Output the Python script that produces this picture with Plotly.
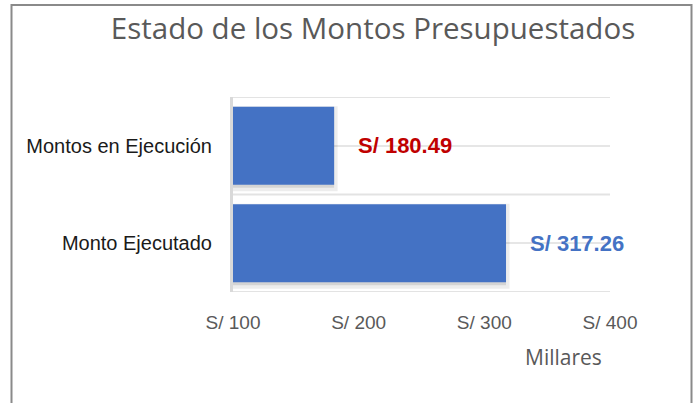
import plotly.graph_objects as go

# ---- data ----
categories = ["Monto Ejecutado", "Montos en Ejecución"]
values = [317.26, 180.49]          # miles de soles
label_colors = ["#4472C4", "#C00000"]
tick_vals = [100, 200, 300, 400]
tick_text = ["S/ 100", "S/ 200", "S/ 300", "S/ 400"]

W, H = 699, 403
ML, MR, MT, MB = 233, 89, 97, 111
PW, PH = W - ML - MR, H - MT - MB

def px_x(px):
    return (px - ML) / PW

def px_y(py):
    return (H - MB - py) / PH

BAR = "#4472C4"
base = tick_vals[0]

fig = go.Figure()
# soft shadow
fig.add_trace(go.Bar(
    y=categories, x=[v - base for v in values], base=base, orientation="h",
    width=0.8, offset=-0.43,
    marker=dict(color="rgba(0,0,0,0.10)", line=dict(color="rgba(0,0,0,0.07)", width=7)),
    hoverinfo="skip", showlegend=False,
))
fig.add_trace(go.Bar(
    y=categories, x=[v - base for v in values], base=base, orientation="h",
    width=0.8, offset=-0.4,
    marker=dict(color=BAR, line=dict(width=0)),
    showlegend=False,
))

font_main = "Liberation Sans, Arial, sans-serif"
for cat, v, col in zip(categories, values, label_colors):
    fig.add_annotation(
        x=v, y=cat, xref="x", yref="y", text=f"<b>S/ {v:.2f}</b>",
        showarrow=False, xanchor="left", yanchor="middle", xshift=22,
        font=dict(family=font_main, size=22, color=col),
    )

# category boundary gridlines
for b in [-0.5, 0.5, 1.5]:
    fig.add_shape(type="line", xref="paper", yref="y", x0=0, x1=1, y0=b, y1=b,
                  line=dict(color="#E3E3E3", width=2), layer="below")

# outer border (frame)
fig.add_shape(type="rect", xref="paper", yref="paper",
              x0=px_x(11.5), x1=px_x(691.5), y0=px_y(420), y1=px_y(5),
              line=dict(color="#8A8A8A", width=2), layer="below")

fig.add_annotation(
    x=px_x(563), y=px_y(357), xref="paper", yref="paper", text="Millares",
    showarrow=False, xanchor="center", yanchor="middle",
    font=dict(family="Open Sans, sans-serif", size=21, color="#595959"),
)

fig.update_layout(
    width=W, height=H,
    margin=dict(l=ML, r=MR, t=MT, b=MB, pad=0, autoexpand=False),
    paper_bgcolor="white", plot_bgcolor="white",
    barmode="overlay",
    title=dict(text="Estado de los Montos Presupuestados",
               x=373 / W, xanchor="center", xref="container",
               y=1 - 29 / H, yanchor="middle", yref="container",
               font=dict(family="Open Sans, sans-serif", size=29.5, color="#595959")),
    xaxis=dict(range=[tick_vals[0], tick_vals[-1]], tickvals=tick_vals, ticktext=tick_text,
               showgrid=False, zeroline=False, showline=False, automargin=False,
               ticks="outside", ticklen=13, tickcolor="rgba(0,0,0,0)",
               tickfont=dict(family=font_main, size=19, color="#595959")),
    yaxis=dict(categoryorder="array", categoryarray=categories, range=[-0.5, 1.5],
               showgrid=True, gridcolor="#E6E6E6", gridwidth=1.5, automargin=False,
               showline=True, linecolor="#D9D9D9", linewidth=3, layer="below traces",
               ticks="outside", ticklen=14, tickcolor="rgba(0,0,0,0)",
               tickfont=dict(family=font_main, size=20, color="#1A1A1A")),
)

fig.write_html("out.html", config={"displayModeBar": False},
               post_script="document.body.style.margin='0';")
